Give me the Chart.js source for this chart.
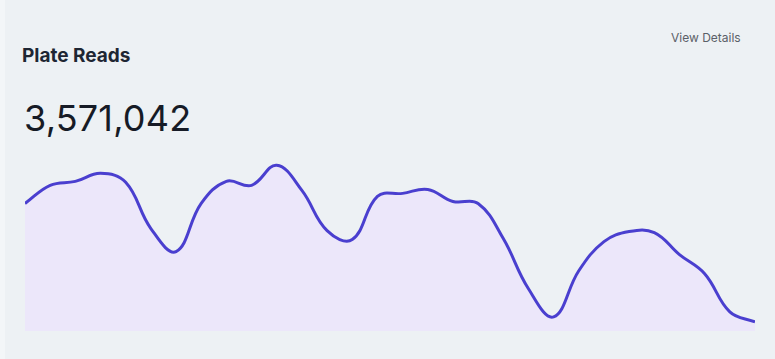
<!DOCTYPE html>
<html>
<head>
<meta charset="utf-8">
<script src="https://cdn.jsdelivr.net/npm/chart.js@4"></script>
<style>
  html, body { margin: 0; padding: 0; }
  body {
    width: 775px; height: 359px; overflow: hidden;
    background: #edf1f4;
    font-family: Inter, "Open Sans", sans-serif;
    position: relative;
  }
  .edge { position: absolute; left: 0; top: 0; width: 5px; height: 359px; background: #f3f6f8; }
  .title { position: absolute; left: 22px; top: 44px; font-size: 19px; font-weight: 700; color: #1e2633; }
  .total { position: absolute; left: 24px; top: 96px; font-size: 36px; font-weight: 400; color: #161b26; letter-spacing: 0.2px; }
  .details { position: absolute; left: 671px; top: 30px; font-size: 12px; color: #5b6068; }
  .chartWrap { position: absolute; left: 25px; top: 154px; width: 730px; height: 177px; }
</style>
</head>
<body>
<div class="edge"></div>
<div class="title">Plate Reads</div>
<div class="total">3,571,042</div>
<div class="details">View Details</div>
<div class="chartWrap"><canvas id="readsChart"></canvas></div>
<script>
// daily plate reads over the month
const days = ['1', '2', '3', '4', '5', '6', '7', '8', '9', '10', '11', '12', '13', '14', '15',
  '16', '17', '18', '19', '20', '21', '22', '23', '24', '25', '26', '27', '28', '29', '30'];
const reads = [144100, 164600, 169100, 178200, 168000, 115800, 89700, 144100, 169100, 164600,
  187300, 158900, 113500, 103300, 152100, 155500, 160000, 146400, 144100, 104400,
  47700, 15900, 68100, 101000, 112400, 111200, 86300, 64700, 21600, 10200];

const ctx = document.getElementById('readsChart').getContext('2d');

new Chart(ctx, {
  type: 'line',
  data: {
    labels: days,
    datasets: [{
      data: reads,
      borderColor: '#4a3fcf',
      borderWidth: 3,
      backgroundColor: '#ece7fa',
      fill: 'origin',
      tension: 0.4,
      pointRadius: 0
    }]
  },
  options: {
    responsive: true,
    maintainAspectRatio: false,
    animation: false,
    layout: { padding: 0 },
    plugins: {
      legend: { display: false },
      tooltip: { enabled: false }
    },
    scales: {
      x: { display: false },
      y: { display: false, min: 0, max: 200000 }
    }
  }
});
</script>
</body>
</html>
